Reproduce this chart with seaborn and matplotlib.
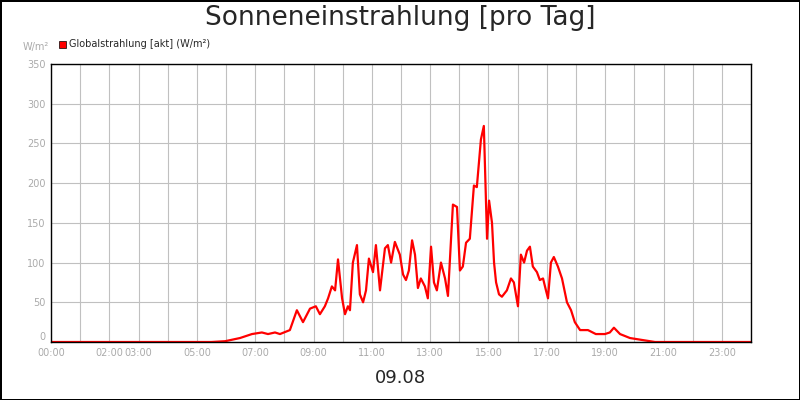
import matplotlib
matplotlib.use("Agg")
import matplotlib.pyplot as plt
import seaborn as sns
import pandas as pd

hours = [0, 5.5, 5.97, 6.48, 6.89, 7.23, 7.44, 7.68, 7.85, 8.19, 8.43, 8.64, 8.88, 9.08, 9.22, 9.39, 9.50, 9.63, 9.74, 9.84,
         9.98, 10.08, 10.18, 10.25, 10.35, 10.49, 10.59, 10.70, 10.80, 10.90, 11.04, 11.14, 11.28, 11.45, 11.55,
         11.66, 11.79, 11.96, 12.07, 12.17, 12.27, 12.38, 12.48, 12.58, 12.68, 12.82, 12.92, 13.03, 13.13, 13.23,
         13.37, 13.51, 13.61, 13.78, 13.92, 14.02, 14.12, 14.23, 14.36, 14.50, 14.60, 14.74, 14.84, 14.95, 15.02,
         15.12, 15.19, 15.26, 15.36, 15.46, 15.63, 15.77, 15.87, 16.01, 16.11, 16.22, 16.32, 16.42, 16.52, 16.66,
         16.76, 16.87, 16.97, 17.04, 17.14, 17.24, 17.38, 17.52, 17.69, 17.83, 17.96, 18.14, 18.41, 18.68, 18.99,
         19.16, 19.30, 19.51, 19.85, 20.19, 20.71, 24]
values = [0, 0, 1, 5, 10, 12, 10, 12, 10, 15, 40, 25, 42, 45, 35, 45, 55, 70, 65, 104,
          55, 35, 45, 40, 100, 122, 60, 50, 65, 105, 88, 122, 65, 118, 122,
          100, 126, 110, 85, 78, 90, 128, 110, 68, 80, 70, 55, 120, 75, 65,
          100, 80, 58, 173, 170, 90, 95, 125, 130, 197, 195, 255, 272, 130, 178,
          150, 100, 75, 60, 57, 65, 80, 75, 45, 110, 100, 115, 120, 95, 88,
          78, 80, 65, 55, 100, 107, 95, 80, 50, 40, 25, 15, 15, 10, 10,
          12, 18, 10, 5, 3, 0, 0]
tick_hours = [0, 2, 3, 5, 7, 9, 11, 13, 15, 17, 19, 21, 23]
tick_labels = ["00:00", "02:00", "03:00", "05:00", "07:00", "09:00", "11:00", "13:00", "15:00",
               "17:00", "19:00", "21:00", "23:00"]

df = pd.DataFrame({"h": hours, "v": values})
sns.set_style("white")
fig = plt.figure(figsize=(8, 4), dpi=100)
fig.patch.set_edgecolor("black"); fig.patch.set_linewidth(2)
ax = fig.add_axes([51/800, 1-342/400, 700/800, 278/400])
sns.lineplot(data=df, x="h", y="v", ax=ax, color="#ff0000", linewidth=1.6)
ax.set_xlim(0, 24); ax.set_ylim(0, 350)
ax.set_xticks(range(25))
ax.set_xticklabels([tick_labels[tick_hours.index(h)] if h in tick_hours else "" for h in range(25)])
ax.set_yticks(range(0, 351, 50))
ax.grid(True, color="#c0c0c0", linewidth=0.8)
ax.tick_params(colors="#aaaaaa", labelsize=7, length=0)
ax.tick_params(axis="x", pad=4)
ax.tick_params(axis="y", pad=4)
for lab in ax.get_yticklabels():
    if lab.get_text() == "0":
        lab.set_va("bottom")
for s in ax.spines.values():
    s.set_color("black"); s.set_linewidth(1)
ax.set_xlabel(""); ax.set_ylabel("")
fig.text(0.5, 0.955, "Sonneneinstrahlung [pro Tag]", ha="center", va="center", fontsize=19)
fig.text(23/800, 1-47/400, "W/m²", fontsize=7, color="#aaaaaa", va="center")
fig.patches.append(plt.Rectangle((59/800, 1-48/400), 7/800, 7/400, transform=fig.transFigure,
                                 facecolor="#ff0000", edgecolor="black", linewidth=0.5))
fig.text(69/800, 1-44/400, "Globalstrahlung [akt] (W/m²)", fontsize=7, va="center")
fig.text(0.5, 1-378/400, "09.08", ha="center", va="center", fontsize=13)
fig.savefig("out.png", dpi=100, edgecolor=fig.get_edgecolor())
